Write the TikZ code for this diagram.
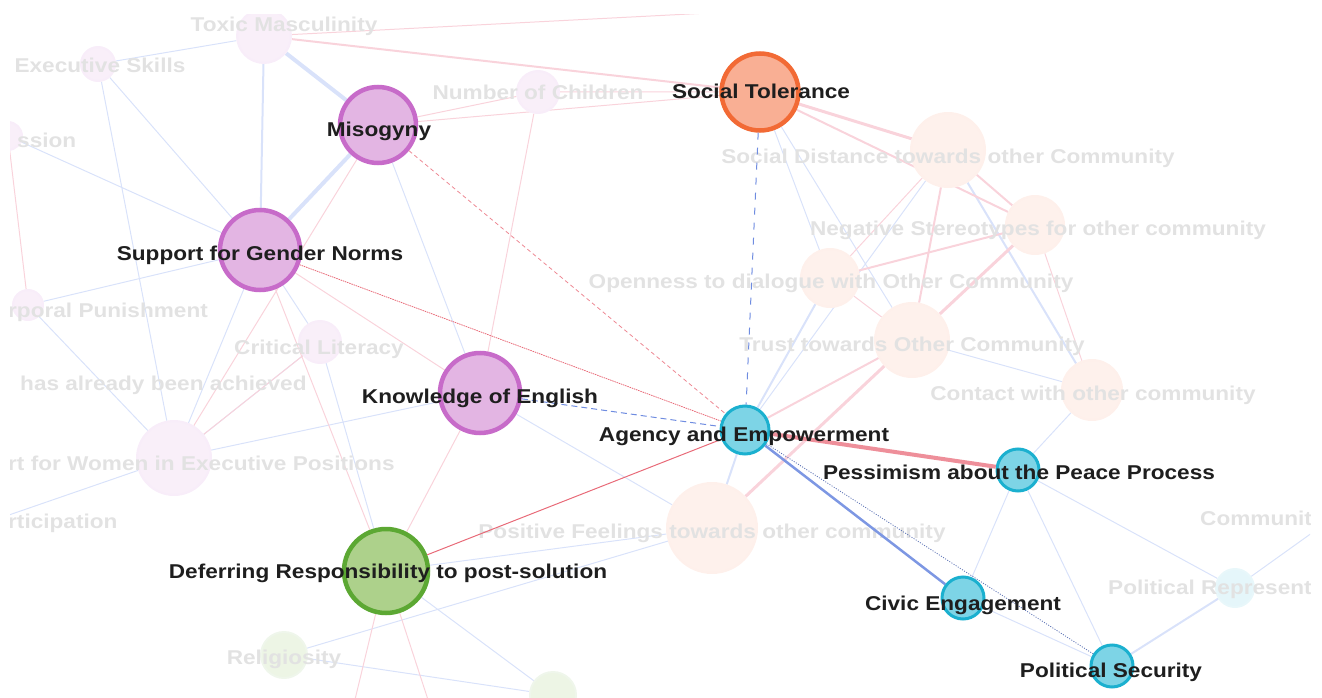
\documentclass[tikz,border=0pt]{standalone}
\usepackage{fontspec}
\newfontfamily\netfont{Liberation Sans}[FakeStretch=1.13]
\usetikzlibrary{positioning}
\pgfdeclarelayer{back}
\pgfdeclarelayer{front}
\pgfsetlayers{back,main,front}
\definecolor{gendfill}{HTML}{E3B5E3}
\definecolor{genddraw}{HTML}{C76BC9}
\definecolor{tolfill}{HTML}{F9AF94}
\definecolor{toldraw}{HTML}{F26A35}
\definecolor{deffill}{HTML}{ADD18B}
\definecolor{defdraw}{HTML}{5CA833}
\definecolor{agfill}{HTML}{7DD4E6}
\definecolor{agdraw}{HTML}{1BB0CF}
\definecolor{posline}{HTML}{E86A78}
\definecolor{negline}{HTML}{6F8CE0}
\definecolor{ghostpos}{HTML}{F9D3DB}
\definecolor{ghostneg}{HTML}{D9E2FA}
\definecolor{tagcol}{HTML}{1E1E1E}
\definecolor{ghosttext}{HTML}{E2E2E2}
\tikzstyle{vertex} = [circle, inner sep=0pt, line width=4.5pt]
\tikzstyle{gender} = [vertex, draw=genddraw, fill=gendfill]
\tikzstyle{tolerance} = [vertex, draw=toldraw, fill=tolfill]
\tikzstyle{deferral} = [vertex, draw=defdraw, fill=deffill]
\tikzstyle{agency} = [vertex, draw=agdraw, fill=agfill, line width=3pt]
\tikzstyle{ghost} = [circle, inner sep=0pt, line width=2pt]
\tikzstyle{ghostgender} = [ghost, draw=genddraw!12, fill=gendfill!22]
\tikzstyle{ghosttol} = [ghost, draw=toldraw!10, fill=tolfill!18]
\tikzstyle{ghostdef} = [ghost, draw=defdraw!10, fill=deffill!22]
\tikzstyle{ghostag} = [ghost, draw=agdraw!10, fill=agfill!20]
\tikzstyle{tag} = [font=\netfont\bfseries\fontsize{20}{20}\selectfont,
    text=tagcol, anchor=base, inner sep=0pt]
\tikzstyle{ghosttag} = [tag, text=ghosttext]
\tikzstyle{faintpos} = [draw=ghostpos, line width=1pt]
\tikzstyle{faintneg} = [draw=ghostneg, line width=1pt]
\tikzstyle{negdash} = [draw=negline, line width=1pt, dash pattern=on 7pt off 8pt]
\tikzstyle{posdash} = [draw=posline!80, line width=0.8pt, dash pattern=on 4pt off 3pt]
\tikzstyle{posdot} = [draw=posline, line width=0.8pt, dash pattern=on 1.5pt off 0.8pt]
\tikzstyle{posedge} = [draw=posline, line width=1pt]
\tikzstyle{negedge} = [draw=negline, line width=1pt]
\tikzstyle{negdot} = [draw=negline!80!black, line width=0.8pt, dash pattern=on 1pt off 1.5pt]

\begin{document}
\begin{tikzpicture}[x=1pt, y=-1pt]

    \useasboundingbox (0,0) rectangle (1322,698);

    \begin{scope}
        \clip (10,15) rectangle (1310,698);

        \node[ghostgender, minimum size=54] (tox) at (264,36) {};
        \node[ghostgender, minimum size=34] (exe) at (98,64) {};
        \node[ghostgender, minimum size=28] (aggr) at (8,136) {};
        \node[ghostgender, minimum size=42] (noc) at (538,92) {};
        \node[ghostgender, minimum size=42] (crit) at (320,342) {};
        \node[ghostgender, minimum size=30] (cpp) at (28,305) {};
        \node[ghostgender, minimum size=74] (swe) at (174,458) {};
        \node[ghosttol, minimum size=74] (sdc) at (948,150) {};
        \node[ghosttol, minimum size=58] (nsc) at (1035,225) {};
        \node[ghosttol, minimum size=58] (odc) at (830,278) {};
        \node[ghosttol, minimum size=74] (ttc) at (912,340) {};
        \node[ghosttol, minimum size=60] (cwc) at (1092,390) {};
        \node[ghosttol, minimum size=90] (pfc) at (712,528) {};
        \node[ghostdef, minimum size=46] (relig) at (284,655) {};
        \node[ghostdef, minimum size=46] (bgrn) at (553,695) {};
        \node[ghostag, minimum size=38] (prp) at (1235,588) {};

        \coordinate (offA) at (352,712);
        \coordinate (offB) at (432,712);
        \coordinate (offC) at (-20,525);
        \coordinate (offD) at (960,0);
        \coordinate (offE) at (1330,520);

        \node[ghosttag] (toxT) at (284,32) {Toxic Masculinity};
        \node[ghosttag] (exeT) at (100,73) {Executive Skills};
        \node[ghosttag, anchor=base west] (aggrT) at (17,147) {ssion};
        \node[ghosttag] (nocT) at (538,100) {Number of Children};
        \node[ghosttag] (sdcT) at (948,163) {Social Distance towards other Community};
        \node[ghosttag] (nscT) at (1038,235) {Negative Stereotypes for other community};
        \node[ghosttag] (odcT) at (831,288) {Openness to dialogue with Other Community};
        \node[ghosttag] (ttcT) at (912,351) {Trust towards Other Community};
        \node[ghosttag] (cwcT) at (1093,400) {Contact with other community};
        \node[ghosttag] (pfcT) at (712,538) {Positive Feelings towards other community};
        \node[ghosttag] (critT) at (319,354) {Critical Literacy};
        \node[ghosttag, anchor=base west] (cppT) at (8,317) {rporal Punishment};
        \node[ghosttag, anchor=base west] (habT) at (20,390) {has already been achieved};
        \node[ghosttag, anchor=base west] (sweT) at (8,470) {rt for Women in Executive Positions};
        \node[ghosttag, anchor=base west] (parT) at (8,528) {rticipation};
        \node[ghosttag] (religT) at (284,664) {Religiosity};
        \node[ghosttag, anchor=base west] (comT) at (1200,525) {Communit};
        \node[ghosttag, anchor=base west] (prpT) at (1108,594) {Political Represent};

        \node[
            tolerance,
            minimum size=77
        ](tol) at (760,92) {};

        \node[
            gender,
            minimum size=76
        ](miso) at (378,125) {};

        \node[
            gender,
            minimum size=80
        ](norms) at (260,250) {};

        \node[
            gender,
            minimum size=80
        ](engl) at (480,393) {};

        \node[
            deferral,
            minimum size=84
        ](defer) at (386,571) {};

        \node[
            agency,
            minimum size=48
        ](agen) at (745,430) {};

        \node[
            agency,
            minimum size=42
        ](pess) at (1018,470) {};

        \node[
            agency,
            minimum size=42
        ](civic) at (963,598) {};

        \node[
            agency,
            minimum size=42
        ](polsec) at (1112,666) {};

        \draw[negdash] (tol) -- (agen);
        \draw[posdash] (miso) -- (agen);
        \draw[posdot] (norms) -- (agen);
        \draw[negdash, dash pattern=on 6pt off 4pt] (engl) -- (agen);
        \draw[posedge] (defer) -- (agen);
        \draw[posedge, draw=posline!75, line width=4pt] (agen) -- (pess);
        \draw[negedge, draw=negline!90, line width=2.5pt] (agen) -- (civic);
        \draw[negdot] (agen) -- (polsec);
    \end{scope}

    \begin{pgfonlayer}{back}
        \clip (10,15) rectangle (1310,698);
        \draw[faintneg, line width=4pt] (tox) -- (miso) (miso) -- (norms);
        \draw[faintneg, line width=2pt] (tox) -- (norms) (sdc) -- (cwc) (agen) -- (odc) (prp) -- (polsec) (agen) -- (pfc);
        \draw[faintneg] (tox) -- (exe) (exe) -- (norms) (norms) -- (crit) (crit) -- (defer)
            (swe) -- (engl) (swe) -- (crit) (miso) -- (engl) (tol) -- (ttc) (tol) -- (odc)
            (ttc) -- (cwc) (agen) -- (sdc) (relig) -- (pfc) (defer) -- (pfc) (engl) -- (pfc)
            (pess) -- (prp) (civic) -- (pess) (pess) -- (polsec) (civic) -- (polsec)
            (cwc) -- (pess) (norms) -- (swe) (exe) -- (swe) (cpp) -- (swe) (cpp) -- (norms)
            (swe) -- (offC) (prp) -- (offE) (relig) -- (bgrn) (defer) -- (bgrn) (aggr) -- (norms);
        \draw[faintpos, line width=3pt] (tol) -- (sdc) (nsc) -- (ttc) (ttc) -- (pfc);
        \draw[faintpos, line width=2pt] (tox) -- (tol) (sdc) -- (ttc) (nsc) -- (odc)
            (agen) -- (ttc) (sdc) -- (nsc) (tol) -- (nsc);
        \draw[faintpos] (miso) -- (noc) (noc) -- (tol) (sdc) -- (odc) (odc) -- (ttc)
            (nsc) -- (cwc) (noc) -- (engl) (miso) -- (swe) (norms) -- (defer)
            (tox) -- (offD) (engl) -- (defer) (crit) -- (swe) (cpp) -- (aggr)
            (defer) -- (offA) (defer) -- (offB) (norms) -- (engl) (miso) -- (tol);
    \end{pgfonlayer}

    \begin{pgfonlayer}{front}
        \node[tag] (tolT) at (761,99) {Social Tolerance};
        \node[tag] (misoT) at (379,137) {Misogyny};
        \node[tag] (normsT) at (260,260) {Support for Gender Norms};
        \node[tag] (englT) at (480,403) {Knowledge of English};
        \node[tag] (agenT) at (744,441) {Agency and Empowerment};
        \node[tag] (pessT) at (1019,479) {Pessimism about the Peace Process};
        \node[tag] (civicT) at (963,610) {Civic Engagement};
        \node[tag] (polsecT) at (1111,677) {Political Security};
        \node[tag] (deferT) at (388,578) {Deferring Responsibility to post-solution};
    \end{pgfonlayer}

\end{tikzpicture}
\end{document}
